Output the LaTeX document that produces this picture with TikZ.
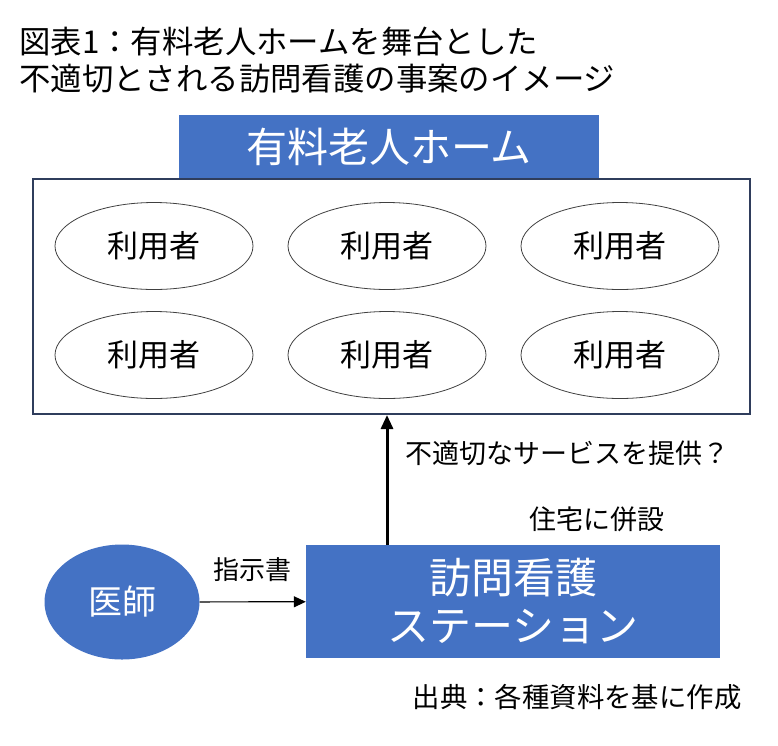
\documentclass[tikz,border=0pt]{standalone}
\usepackage{fontspec}
\setmainfont{Noto Sans CJK JP}
\usetikzlibrary{positioning, shapes.geometric, arrows.meta}
\definecolor{office}{HTML}{4472C4}
\definecolor{navy}{HTML}{2F3D5C}

\begin{document}
\begin{tikzpicture}[
x=1pt, y=-1pt,
    bluebox/.style = {rectangle, fill=office, text=white, inner sep=0pt, align=center},
    user/.style = {ellipse, draw=black!75, line width=0.8pt, minimum width=198pt, minimum height=87pt,
        inner sep=0pt, font=\fontsize{31}{36}\selectfont},
    msg/.style = {-{Triangle[length=12pt, width=11pt]}, line width=1.2pt},
    msglabel/.style = {font=\fontsize{27}{32}\selectfont},
]
\useasboundingbox (0,0) rectangle (778,745);

\node[anchor=north west, align=left, inner sep=0pt, font=\fontsize{31.4}{37}\selectfont] (title) at (19,27)
    {図表1：有料老人ホームを舞台とした\\不適切とされる訪問看護の事案のイメージ};

% home with its residents
\node[draw=navy, line width=2pt, minimum width=717pt, minimum height=235pt] (home) at (391.5,296.5) {};
\node[bluebox, minimum width=420pt, minimum height=63pt, font=\fontsize{41}{48}\selectfont] (homehead) at (389,146.5) {有料老人ホーム};

\foreach \row/\y in {1/246, 2/355}
    \foreach \col/\x in {1/154, 2/387, 3/620}
        \node[user] (u\row\col) at (\x,\y) {利用者};

% station and doctor
\node[bluebox, minimum width=414pt, minimum height=113pt, font=\fontsize{42}{48}\selectfont] (stn) at (513,601.5)
    {訪問看護\\ステーション};
\node[bluebox, ellipse, minimum width=155pt, minimum height=115pt, font=\fontsize{34}{40}\selectfont] (doc) at (122,602) {医師};

\draw[msg] (doc) to node[msglabel, font=\fontsize{26}{31}\selectfont, above=16pt] {指示書} (stn);

\coordinate (up) at (387,0);
\draw[-{Triangle[length=14pt, width=12pt]}, line width=3pt] (up |- stn.north) -- (up |- home.south);

\node[msglabel, anchor=west] (bad) at (402,453) {不適切なサービスを提供？};
\node[msglabel] (side) at (597,519) {住宅に併設};
\node[msglabel, font=\fontsize{27.4}{33}\selectfont] (src) at (577,697) {出典：各種資料を基に作成};

\end{tikzpicture}
\end{document}
